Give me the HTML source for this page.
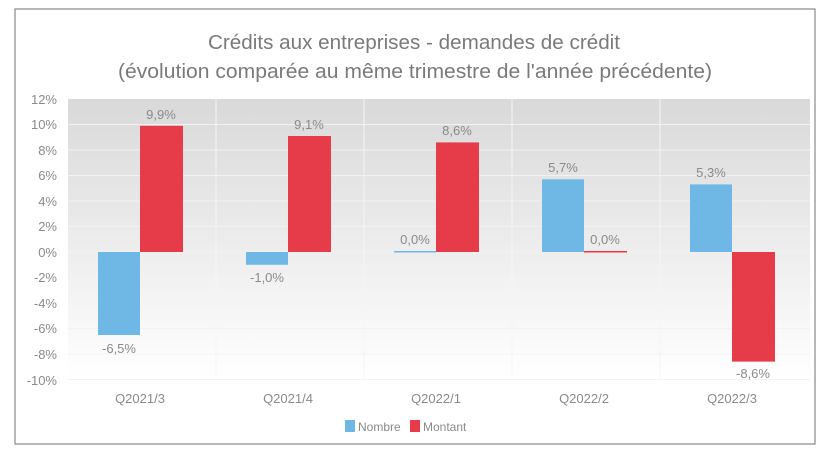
<!DOCTYPE html>
<html><head><meta charset="utf-8"><style>
body{margin:0;background:#fff;width:828px;height:466px;overflow:hidden}
svg{display:block;font-family:"Liberation Sans",sans-serif}
</style></head><body>
<svg width="828" height="466" viewBox="0 0 828 466">
<defs>
<linearGradient id="bg" x1="0" y1="0" x2="0" y2="1">
<stop offset="0" stop-color="#d9d9d9"/><stop offset="1" stop-color="#ffffff"/>
</linearGradient>
</defs>
<rect x="15" y="9" width="800" height="435" fill="#fff" stroke="#888" stroke-width="1.2"/>
<text x="414" y="49" text-anchor="middle" font-size="20.5" fill="#7a7a7a" textLength="412" lengthAdjust="spacingAndGlyphs">Crédits aux entreprises - demandes de crédit</text>
<text x="415" y="78" text-anchor="middle" font-size="20.5" fill="#7a7a7a" textLength="594" lengthAdjust="spacingAndGlyphs">(évolution comparée au même trimestre de l'année précédente)</text>
<rect x="68" y="99" width="742" height="281" fill="url(#bg)"/>
<g stroke="#f2f2f2" stroke-width="1">
<line x1="68" x2="810" y1="124.5" y2="124.5"/><line x1="68" x2="810" y1="150" y2="150"/>
<line x1="68" x2="810" y1="175.5" y2="175.5"/><line x1="68" x2="810" y1="201" y2="201"/>
<line x1="68" x2="810" y1="226.5" y2="226.5"/><line x1="68" x2="810" y1="252" y2="252"/>
<line x1="68" x2="810" y1="277.5" y2="277.5"/><line x1="68" x2="810" y1="303" y2="303"/>
<line x1="68" x2="810" y1="328.5" y2="328.5"/><line x1="68" x2="810" y1="354" y2="354"/>
<line x1="68" x2="810" y1="379.5" y2="379.5"/>
</g>
<g stroke="#f5f5f5" stroke-width="1">
<line x1="216" x2="216" y1="99" y2="380"/><line x1="364" x2="364" y1="99" y2="380"/>
<line x1="512" x2="512" y1="99" y2="380"/><line x1="660" x2="660" y1="99" y2="380"/>
</g>
<g font-size="13" fill="#8a8a8a" text-anchor="end">
<text x="57" y="104">12%</text><text x="57" y="129">10%</text><text x="57" y="155">8%</text>
<text x="57" y="180">6%</text><text x="57" y="206">4%</text><text x="57" y="231">2%</text>
<text x="57" y="257">0%</text><text x="57" y="282">-2%</text><text x="57" y="308">-4%</text>
<text x="57" y="333">-6%</text><text x="57" y="359">-8%</text><text x="57" y="385">-10%</text>
</g>
<g fill="#6fb8e6">
<rect x="98" y="252" width="42" height="83"/>
<rect x="246" y="252" width="42" height="12.8"/>
<rect x="394" y="251" width="42" height="1.5"/>
<rect x="542" y="179.3" width="42" height="72.7"/>
<rect x="690" y="184.4" width="42" height="67.6"/>
</g>
<g fill="#e63c4a">
<rect x="140" y="125.8" width="43" height="126.2"/>
<rect x="288" y="136" width="43" height="116"/>
<rect x="436" y="142.4" width="43" height="109.6"/>
<rect x="584" y="251" width="43" height="1.5"/>
<rect x="732" y="252" width="43" height="109.6"/>
</g>
<g font-size="13" fill="#8a8a8a" text-anchor="middle">
<text x="161" y="119">9,9%</text><text x="309" y="129">9,1%</text><text x="457" y="135">8,6%</text>
<text x="605" y="244">0,0%</text><text x="753" y="378">-8,6%</text>
<text x="119" y="353">-6,5%</text><text x="267" y="282">-1,0%</text><text x="415" y="244">0,0%</text>
<text x="563" y="172">5,7%</text><text x="711" y="177">5,3%</text>
<text x="140" y="403">Q2021/3</text><text x="288" y="403">Q2021/4</text><text x="436" y="403">Q2022/1</text>
<text x="584" y="403">Q2022/2</text><text x="732" y="403">Q2022/3</text>
</g>
<rect x="345" y="420" width="10" height="12" fill="#6fb8e6"/>
<text x="358" y="431" font-size="12" fill="#8a8a8a">Nombre</text>
<rect x="410" y="420" width="10" height="12" fill="#e63c4a"/>
<text x="423" y="431" font-size="12" fill="#8a8a8a">Montant</text>
</svg>
</body></html>
